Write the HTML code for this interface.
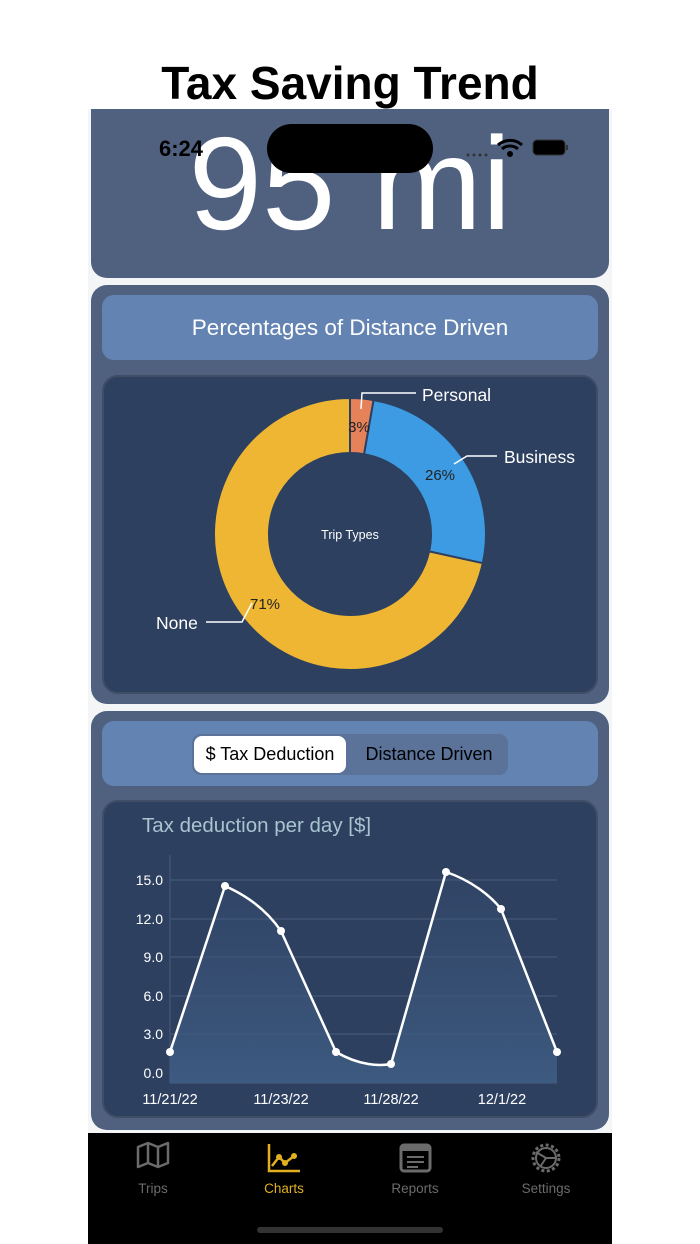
<!DOCTYPE html>
<html><head><meta charset="utf-8"><style>
*{margin:0;padding:0;box-sizing:border-box}
body{width:700px;height:1244px;background:#fff;position:relative;overflow:hidden;font-family:"Liberation Sans",sans-serif}
.a{position:absolute}
</style></head><body>
<div class="a" style="left:0;top:56px;width:700px;text-align:center;font-size:46px;font-weight:bold;color:#000;line-height:54px">Tax Saving Trend</div>
<div class="a" style="left:88px;top:109px;width:524px;height:1135px;background:#f4f5f7"></div>
<div class="a" style="left:91px;top:109px;width:518px;height:169px;background:#506180;border-radius:0 0 16px 16px"></div>
<div class="a" style="left:91px;top:118px;width:518px;text-align:center;font-size:132px;color:#fff;line-height:132px;white-space:nowrap">95 mi</div>
<div class="a" style="left:159px;top:136px;font-size:22px;font-weight:bold;color:#000">6:24</div>
<div class="a" style="left:267px;top:124px;width:166px;height:49px;background:#000;border-radius:25px"></div>
<svg class="a" style="left:460px;top:135px" width="110" height="26">
<circle cx="8" cy="20" r="1.5" fill="#333"/><circle cx="14" cy="20" r="1.5" fill="#333"/><circle cx="20" cy="20" r="1.5" fill="#333"/><circle cx="26" cy="20" r="1.5" fill="#333"/>
<path d="M38 10 A18 18 0 0 1 62 10" stroke="#000" stroke-width="3" fill="none"/><path d="M42 14 A12 12 0 0 1 58 14" stroke="#000" stroke-width="3" fill="none"/><circle cx="50" cy="19" r="3" fill="#000"/>
<rect x="73" y="5" width="32" height="15" rx="4" fill="#000" stroke="#333"/><rect x="106" y="10" width="2" height="5" fill="#333"/>
</svg>
<div class="a" style="left:91px;top:285px;width:518px;height:419px;background:#506180;border-radius:16px"></div>
<div class="a" style="left:102px;top:295px;width:496px;height:65px;background:#6383b2;border-radius:12px;color:#fff;font-size:22.5px;text-align:center;line-height:65px">Percentages of Distance Driven</div>
<div class="a" style="left:102px;top:375px;width:496px;height:319px;background:#2d4060;border-radius:16px;border:2px solid #3f4e66"></div>
<svg class="a" style="left:0;top:0" width="700" height="1244">
<path d="M350 398 A136 136 0 0 1 373.6 400.1 L364.1 454.2 A81 81 0 0 0 350 453 Z" fill="#e6825a" stroke="#2d4060" stroke-width="2"/>
<path d="M373.6 400.1 A136 136 0 0 1 482.8 563.2 L429.1 551.4 A81 81 0 0 0 364.1 454.2 Z" fill="#3d9be3" stroke="#2d4060" stroke-width="2"/>
<path d="M482.8 563.2 A136 136 0 1 1 350 398 L350 453 A81 81 0 1 0 429.1 551.4 Z" fill="#eeb632" stroke="#2d4060" stroke-width="2"/>
<polyline points="361,409 362,393 416,393" stroke="#fff" stroke-width="1.5" fill="none"/>
<polyline points="454,464 467,456 497,456" stroke="#fff" stroke-width="1.5" fill="none"/>
<polyline points="252,603 242,622 206,622" stroke="#fff" stroke-width="1.5" fill="none"/>
<g font-family="Liberation Sans,sans-serif">
<text x="422" y="401" fill="#fff" font-size="17.5">Personal</text>
<text x="504" y="463" fill="#fff" font-size="17.5">Business</text>
<text x="156" y="629" fill="#fff" font-size="17.5">None</text>
<text x="359" y="432" fill="#222" font-size="15" text-anchor="middle">3%</text>
<text x="440" y="480" fill="#222" font-size="15" text-anchor="middle">26%</text>
<text x="265" y="609" fill="#222" font-size="15" text-anchor="middle">71%</text>
<text x="350" y="539" fill="#fff" font-size="12.5" text-anchor="middle">Trip Types</text>
</g>
</svg>
<div class="a" style="left:91px;top:711px;width:518px;height:419px;background:#506180;border-radius:16px"></div>
<div class="a" style="left:102px;top:721px;width:496px;height:65px;background:#6383b2;border-radius:12px"></div>
<div class="a" style="left:192px;top:734px;width:316px;height:41px;background:#5b7299;border-radius:9px"></div>
<div class="a" style="left:194px;top:736px;width:152px;height:37px;background:#fff;border-radius:8px;font-size:18px;text-align:center;line-height:37px;color:#000">$ Tax Deduction</div>
<div class="a" style="left:350px;top:736px;width:158px;height:37px;font-size:18px;text-align:center;line-height:37px;color:#000">Distance Driven</div>
<div class="a" style="left:102px;top:800px;width:496px;height:318px;background:#2d4060;border-radius:16px;border:2px solid #3f4e66"></div>
<div class="a" style="left:142px;top:814px;font-size:20.5px;color:#a9c4cf">Tax deduction per day [$]</div>
<svg class="a" style="left:0;top:0" width="700" height="1244">
<defs><linearGradient id="g" x1="0" y1="0" x2="0" y2="1"><stop offset="0" stop-color="#3a5378" stop-opacity="0.2"/><stop offset="1" stop-color="#3d5a80"/></linearGradient></defs>
<g stroke="#4a5d7c" stroke-width="1">
<line x1="170" y1="880" x2="557" y2="880"/><line x1="170" y1="919" x2="557" y2="919"/><line x1="170" y1="957" x2="557" y2="957"/><line x1="170" y1="996" x2="557" y2="996"/><line x1="170" y1="1034" x2="557" y2="1034"/><line x1="170" y1="1073" x2="557" y2="1073"/>
<line x1="170" y1="855" x2="170" y2="1083"/><line x1="170" y1="1083" x2="557" y2="1083"/>
</g>
<path d="M170 1052 L225 886 C250 897 268 912 281 931 L336 1052 C360 1066 380 1066 391 1064 L446 872 C470 880 490 895 501 909 L557 1052 L557 1083 L170 1083 Z" fill="url(#g)"/>
<path d="M170 1052 L225 886 C250 897 268 912 281 931 L336 1052 C360 1066 380 1066 391 1064 L446 872 C470 880 490 895 501 909 L557 1052" fill="none" stroke="#fff" stroke-width="2.5"/>
<g fill="#fff"><circle cx="170" cy="1052" r="4"/><circle cx="225" cy="886" r="4"/><circle cx="281" cy="931" r="4"/><circle cx="336" cy="1052" r="4"/><circle cx="391" cy="1064" r="4"/><circle cx="446" cy="872" r="4"/><circle cx="501" cy="909" r="4"/><circle cx="557" cy="1052" r="4"/></g>
<g font-family="Liberation Sans,sans-serif" font-size="14" fill="#fff" text-anchor="end">
<text x="163" y="885">15.0</text><text x="163" y="924">12.0</text><text x="163" y="962">9.0</text><text x="163" y="1001">6.0</text><text x="163" y="1039">3.0</text><text x="163" y="1078">0.0</text>
</g>
<g font-family="Liberation Sans,sans-serif" font-size="14.5" fill="#fff" text-anchor="middle">
<text x="170" y="1104">11/21/22</text><text x="281" y="1104">11/23/22</text><text x="391" y="1104">11/28/22</text><text x="502" y="1104">12/1/22</text>
</g>
</svg>
<div class="a" style="left:88px;top:1133px;width:524px;height:111px;background:#000"></div>
<svg class="a" style="left:88px;top:1133px" width="524" height="111">
<path d="M50 14 L60 10 L70 14 L80 10 L80 30 L70 34 L60 30 L50 34 Z M60 10 V30 M70 14 V34" stroke="#6b6b6b" stroke-width="2.5" fill="none" stroke-linejoin="round"/>
<path d="M181 11 V38 H212 M184 33 L191 24 L197 30 L206 23" stroke="#e0b020" stroke-width="2.5" fill="none"/>
<circle cx="191" cy="24" r="3" fill="#e0b020"/><circle cx="197" cy="30" r="3" fill="#e0b020"/><circle cx="206" cy="23" r="3" fill="#e0b020"/>
<rect x="313" y="12" width="29" height="26" rx="3" stroke="#6b6b6b" stroke-width="3" fill="none"/><rect x="313" y="12" width="29" height="6" fill="#6b6b6b"/>
<path d="M319 24 H336 M319 29 H336 M319 34 H330" stroke="#6b6b6b" stroke-width="2"/>
<circle cx="458" cy="25" r="13" stroke="#6b6b6b" stroke-width="3" fill="none" stroke-dasharray="3 2.5"/>
<circle cx="458" cy="25" r="10" stroke="#6b6b6b" stroke-width="2" fill="none"/>
<path d="M458 25 L448 19 M458 25 L468 25 M458 25 L452 34" stroke="#6b6b6b" stroke-width="2"/>
<g font-family="Liberation Sans,sans-serif" font-size="13.5" text-anchor="middle">
<text x="65" y="60" fill="#6b6b6b">Trips</text><text x="196" y="60" fill="#e0b020">Charts</text><text x="327" y="60" fill="#6b6b6b">Reports</text><text x="458" y="60" fill="#6b6b6b">Settings</text>
</g>
<rect x="169" y="94" width="186" height="6" rx="3" fill="#333"/>
</svg>
</body></html>
